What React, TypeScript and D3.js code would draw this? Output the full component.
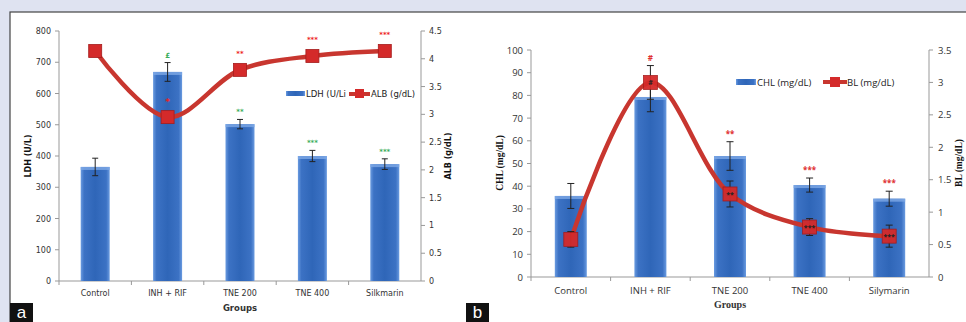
import React from "react";
import * as d3 from "d3";

const groups = ["Control", "INH + RIF", "TNE 200", "TNE 400", "Silymarin"];
const groupsA = ["Control", "INH + RIF", "TNE 200", "TNE 400", "Silkmarin"];

const ldh = [365, 669, 502, 400, 374];
const ldhErr = [28, 30, 15, 18, 17];
const alb = [4.14, 2.95, 3.8, 4.05, 4.14];
const ldhTicks = [0, 100, 200, 300, 400, 500, 600, 700, 800];
const ldhTickLabels = ["0", "100", "200", "300", "400", "500", "600", "700", "800"];
const albTicks = [0, 0.5, 1, 1.5, 2, 2.5, 3, 3.5, 4, 4.5];
const albTickLabels = ["0", "0.5", "1", "1.5", "2", "2.5", "3", "3.5", "4", "4.5"];
const ldhGreenMarks = ["", "£", "**", "***", "***"];
const albRedMarks = ["", "*", "**", "***", "***"];

const chl = [35.7, 79.3, 53.3, 40.5, 34.5];
const chlErr = [5.5, 6.5, 6.3, 3.1, 3.3];
const bl = [0.58, 3.0, 1.28, 0.77, 0.63];
const blErr = [0.12, 0.26, 0.2, 0.13, 0.17];
const chlTicks = [0, 10, 20, 30, 40, 50, 60, 70, 80, 90, 100];
const blTicks = [0, 0.5, 1, 1.5, 2, 2.5, 3, 3.5];
const blTickLabels = ["0", "0.5", "1", "1.5", "2", "2.5", "3", "3.5"];
const chlRedMarks = ["", "#", "**", "***", "***"];
const blInnerMarks = ["", "#", "**", "***", "***"];

const RED = "#c8362f";
const MARK = "#d42a2a";

function Bars({ x, y, vals, id, bw }) {
  return (
    <g>
      {vals.map((v, i) => {
        const cx = x(groups[i])! + x.bandwidth() / 2;
        return (
          <g key={i}>
            <rect x={cx - bw / 2} y={y(v)} width={bw} height={y(0) - y(v)} fill={`url(#${id})`} />
            <rect x={cx - bw / 2} y={y(v)} width={bw} height={3} fill="#7ea9e6" opacity={0.8} />
          </g>
        );
      })}
    </g>
  );
}

function ErrBars({ x, y, vals, errs, cap }) {
  return (
    <g stroke="#222" strokeWidth={1}>
      {vals.map((v, i) => {
        const cx = x(groups[i])! + x.bandwidth() / 2;
        const t = y(v + errs[i]);
        const b = y(v - errs[i]);
        return (
          <g key={i}>
            <line x1={cx} x2={cx} y1={t} y2={b} />
            <line x1={cx - cap} x2={cx + cap} y1={t} y2={t} />
            <line x1={cx - cap} x2={cx + cap} y1={b} y2={b} />
          </g>
        );
      })}
    </g>
  );
}

export default function App() {
  // Panel a
  const ax0 = 59, ax1 = 421, ayTop = 31, ayBot = 281;
  const xa = d3.scaleBand().domain(groups).range([ax0, ax1]);
  const yaL = d3.scaleLinear().domain([0, 800]).range([ayBot, ayTop]);
  const yaR = d3.scaleLinear().domain([0, 4.5]).range([ayBot, ayTop]);
  const lineA = d3
    .line<number>()
    .x((_, i) => xa(groups[i])! + xa.bandwidth() / 2)
    .y((d) => yaR(d))
    .curve(d3.curveCatmullRom.alpha(0.5));

  // Panel b
  const bx0 = 531, bx1 = 929, byTop = 50, byBot = 277;
  const xb = d3.scaleBand().domain(groups).range([bx0, bx1]);
  const ybL = d3.scaleLinear().domain([0, 100]).range([byBot, byTop]);
  const ybR = d3.scaleLinear().domain([0, 3.5]).range([byBot, byTop]);
  const lineB = d3
    .line<number>()
    .x((_, i) => xb(groups[i])! + xb.bandwidth() / 2)
    .y((d) => ybR(d))
    .curve(d3.curveCatmullRom.alpha(0.5));

  const fa = "'DejaVu Sans', Verdana, sans-serif";
  const fb = "'Open Sans', 'Liberation Sans', sans-serif";
  const fserif = "'Liberation Serif', 'DejaVu Serif', serif";

  return (
    <svg
      width={966}
      height={322}
      style={{ position: "absolute", left: 0, top: 0 }}
      viewBox="0 0 966 322"
    >
      <defs>
        <linearGradient id="barg" x1="0" x2="1" y1="0" y2="0">
          <stop offset="0" stopColor="#6a9be0" />
          <stop offset="0.12" stopColor="#3c72c4" />
          <stop offset="0.5" stopColor="#2f66b8" />
          <stop offset="0.88" stopColor="#3c72c4" />
          <stop offset="1" stopColor="#6a9be0" />
        </linearGradient>
      </defs>
      <rect x={0} y={0} width={966} height={322} fill="#dfe3f1" />
      <rect x={10} y={12} width={960} height={314} fill="#ffffff" stroke="#444" strokeWidth={1.2} />

      {/* ===== Panel a ===== */}
      <g fontFamily={fa} fill="#333">
        <line x1={ax0} x2={ax0} y1={ayTop} y2={ayBot} stroke="#999" />
        {ldhTicks.map((t, i) => (
          <g key={i}>
            <line x1={ax0 - 4} x2={ax0} y1={yaL(t)} y2={yaL(t)} stroke="#999" />
            <text x={ax0 - 8} y={yaL(t) + 3} fontSize={8} textAnchor="end">
              {ldhTickLabels[i]}
            </text>
          </g>
        ))}
        <line x1={ax1} x2={ax1} y1={ayTop} y2={ayBot} stroke="#999" />
        {albTicks.map((t, i) => (
          <g key={i}>
            <line x1={ax1} x2={ax1 + 4} y1={yaR(t)} y2={yaR(t)} stroke="#999" />
            <text x={ax1 + 8} y={yaR(t) + 3} fontSize={8} textAnchor="start">
              {albTickLabels[i]}
            </text>
          </g>
        ))}
        <line x1={ax0} x2={ax1} y1={ayBot} y2={ayBot} stroke="#999" />
        {groups.map((g, i) => (
          <line key={i} x1={xa(g)!} x2={xa(g)!} y1={ayBot} y2={ayBot + 4} stroke="#999" />
        ))}
        {groupsA.map((g, i) => (
          <text key={i} x={xa(groups[i])! + xa.bandwidth() / 2} y={296} fontSize={8} textAnchor="middle">
            {g}
          </text>
        ))}
        <text x={(ax0 + ax1) / 2} y={311} fontSize={8.5} fontWeight="bold" textAnchor="middle">
          Groups
        </text>
        <text transform={`translate(31,156) rotate(-90)`} fontSize={8} fontWeight="bold" textAnchor="middle" fill="#111">
          LDH (U/L)
        </text>
        <text transform={`translate(451,156) rotate(-90)`} fontSize={8} fontWeight="bold" textAnchor="middle" fill="#111">
          ALB (g/dL)
        </text>

        <Bars x={xa} y={yaL} vals={ldh} id="barg" bw={29} />
        <ErrBars x={xa} y={yaL} vals={ldh} errs={ldhErr} cap={3} />

        <path d={lineA(alb)!} fill="none" stroke={RED} strokeWidth={4.5} />
        {alb.map((v, i) => {
          const cx = xa(groups[i])! + xa.bandwidth() / 2;
          return (
            <rect key={i} x={cx - 6.5} y={yaR(v) - 6.5} width={13} height={13} fill={MARK} stroke="#a51c1c" strokeWidth={0.8} />
          );
        })}
        {ldhGreenMarks.map((m, i) => {
          const cx = xa(groups[i])! + xa.bandwidth() / 2;
          return m ? (
            <text key={i} x={cx} y={yaL(ldh[i] + ldhErr[i]) - 5} fontSize={7} fontWeight="bold" fill="#3aae5a" textAnchor="middle">
              {m}
            </text>
          ) : null;
        })}
        {albRedMarks.map((m, i) => {
          const cx = xa(groups[i])! + xa.bandwidth() / 2;
          const yy = i === 1 ? yaR(alb[i]) - 12 : yaR(alb[i]) - 14;
          return m ? (
            <text key={i} x={cx} y={yy} fontSize={i === 1 ? 9 : 7} fontWeight="bold" fill="#ee2222" textAnchor="middle">
              {m}
            </text>
          ) : null;
        })}
        {/* legend a */}
        <rect x={286} y={91} width={19} height={5} fill="url(#barg)" />
        <text x={306} y={97} fontSize={8.5} fill="#222">LDH (U/Li</text>
        <line x1={349} x2={370} y1={94} y2={94} stroke={RED} strokeWidth={4} />
        <rect x={355} y={89} width={9} height={9} fill={MARK} />
        <text x={371} y={97} fontSize={8.5} fill="#222">ALB (g/dL)</text>
      </g>

      <rect x={10} y={303} width={23} height={19} fill="#111" />
      <text x={21.5} y={318} fontSize={17} fill="#fff" textAnchor="middle" fontFamily="'Liberation Sans', Arial, sans-serif">a</text>

      {/* ===== Panel b ===== */}
      <g fontFamily={fb} fill="#333">
        <line x1={bx0} x2={bx0} y1={byTop} y2={byBot} stroke="#999" />
        {chlTicks.map((t, i) => (
          <g key={i}>
            <line x1={bx0 - 4} x2={bx0} y1={ybL(t)} y2={ybL(t)} stroke="#999" />
            <text x={bx0 - 8} y={ybL(t) + 3.5} fontSize={9.5} textAnchor="end">
              {t}
            </text>
          </g>
        ))}
        <line x1={bx1} x2={bx1} y1={byTop} y2={byBot} stroke="#999" />
        {blTicks.map((t, i) => (
          <g key={i}>
            <line x1={bx1} x2={bx1 + 4} y1={ybR(t)} y2={ybR(t)} stroke="#999" />
            <text x={bx1 + 9} y={ybR(t) + 3.5} fontSize={9.5} textAnchor="start">
              {blTickLabels[i]}
            </text>
          </g>
        ))}
        <line x1={bx0} x2={bx1} y1={byBot} y2={byBot} stroke="#999" />
        {groups.map((g, i) => (
          <line key={i} x1={xb(g)!} x2={xb(g)!} y1={byBot} y2={byBot + 4} stroke="#999" />
        ))}
        {groups.map((g, i) => (
          <text key={i} x={xb(g)! + xb.bandwidth() / 2} y={294} fontSize={9.5} textAnchor="middle">
            {g}
          </text>
        ))}
        <text x={(bx0 + bx1) / 2} y={308} fontSize={10} fontWeight="bold" textAnchor="middle" fontFamily={fserif} fill="#333">
          Groups
        </text>
        <text transform={`translate(503,163) rotate(-90)`} fontSize={9.5} fontWeight="bold" textAnchor="middle" fontFamily={fserif} fill="#111">
          CHL  (mg/dL)
        </text>
        <text transform={`translate(962,163) rotate(-90)`} fontSize={9.5} fontWeight="bold" textAnchor="middle" fontFamily={fserif} fill="#111">
          BL (mg/dL)
        </text>

        <Bars x={xb} y={ybL} vals={chl} id="barg" bw={32} />
        <ErrBars x={xb} y={ybL} vals={chl} errs={chlErr} cap={3.5} />
        <path d={lineB(bl)!} fill="none" stroke={RED} strokeWidth={4.5} />
        <ErrBars x={xb} y={ybR} vals={bl} errs={blErr} cap={3.5} />
        {bl.map((v, i) => {
          const cx = xb(groups[i])! + xb.bandwidth() / 2;
          return (
            <g key={i}>
              <rect x={cx - 7} y={ybR(v) - 7} width={14} height={14} fill={MARK} stroke="#a51c1c" strokeWidth={0.8} opacity={0.95} />
              {blInnerMarks[i] ? (
                <text x={cx} y={ybR(v) + 3} fontSize={7} fontWeight="bold" fill="#222" textAnchor="middle">
                  {blInnerMarks[i]}
                </text>
              ) : null}
            </g>
          );
        })}
        {chlRedMarks.map((m, i) => {
          const cx = xb(groups[i])! + xb.bandwidth() / 2;
          const top = i === 1 ? ybR(bl[i] + blErr[i]) : ybL(chl[i] + chlErr[i]);
          return m ? (
            <text key={i} x={cx} y={top - 5} fontSize={8} fontWeight="bold" fill="#e03030" textAnchor="middle">
              {m}
            </text>
          ) : null;
        })}
        <rect x={736} y={79} width={20} height={6} fill="url(#barg)" />
        <text x={757} y={86} fontSize={9.5} fill="#222">CHL (mg/dL)</text>
        <line x1={823} x2={847} y1={82} y2={82} stroke={RED} strokeWidth={4} />
        <rect x={830} y={77} width={10} height={10} fill={MARK} />
        <text x={847} y={86} fontSize={9.5} fill="#222">BL (mg/dL)</text>
      </g>

      <rect x={466} y={303} width={23} height={19} fill="#111" />
      <text x={477.5} y={318} fontSize={17} fill="#fff" textAnchor="middle" fontFamily="'Liberation Sans', Arial, sans-serif">b</text>
    </svg>
  );
}
